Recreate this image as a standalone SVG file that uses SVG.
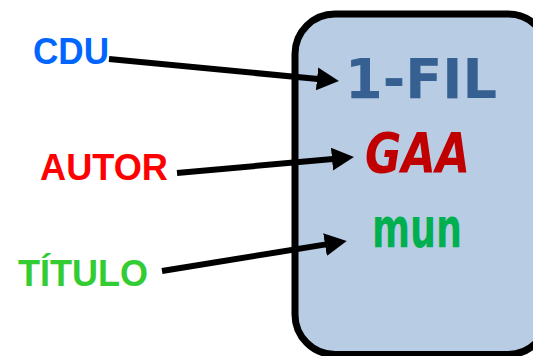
<svg xmlns="http://www.w3.org/2000/svg" width="533" height="356" viewBox="0 0 533 356">
<style>
.lbl{font-family:"Liberation Sans",Arial,sans-serif;font-weight:bold;font-size:36px}
.card{font-family:"Comic Sans MS","DejaVu Sans","Noto Sans",sans-serif;font-weight:bold}
.conn{fill:none;stroke:#000;stroke-width:6}
</style>
<defs>
<marker id="ah" markerUnits="userSpaceOnUse" markerWidth="24" markerHeight="24" refX="1" refY="11.5" orient="auto">
<path d="M0,0 L22,11.5 L0,23 Z" fill="#000"/>
</marker>
</defs>
<g id="card">
<rect x="295" y="14" width="253" height="340.5" rx="40" ry="40" fill="#b8cce4" stroke="#000" stroke-width="7"/>
</g>
<g id="connectors">
<path class="conn" d="M109,59 L318,79" marker-end="url(#ah)"/>
<path class="conn" d="M177,173 L333,159" marker-end="url(#ah)"/>
<path class="conn" d="M162,271 L326,244.4" marker-end="url(#ah)"/>
</g>
<g id="cdu"><text class="lbl" x="33" y="64" fill="#0066ff" font-size="35" textLength="76" lengthAdjust="spacingAndGlyphs">CDU</text></g>
<g id="autor"><text class="lbl" x="40" y="180" fill="#ff0000" textLength="128" lengthAdjust="spacingAndGlyphs">AUTOR</text></g>
<g id="titulo"><text class="lbl" x="18" y="286" fill="#33cc33" textLength="130" lengthAdjust="spacingAndGlyphs">TÍTULO</text></g>
<g id="fil"><text class="card" x="345" y="98" fill="#376092" font-size="55" textLength="152" lengthAdjust="spacingAndGlyphs">1-FIL</text></g>
<g id="gaa"><text class="card" x="365" y="172" fill="#c00000" font-size="55" font-style="italic" textLength="105" lengthAdjust="spacingAndGlyphs">GAA</text></g>
<g id="mun"><text class="card" x="372" y="247" fill="#00b050" font-size="55" textLength="90" lengthAdjust="spacingAndGlyphs">mun</text></g>
</svg>
